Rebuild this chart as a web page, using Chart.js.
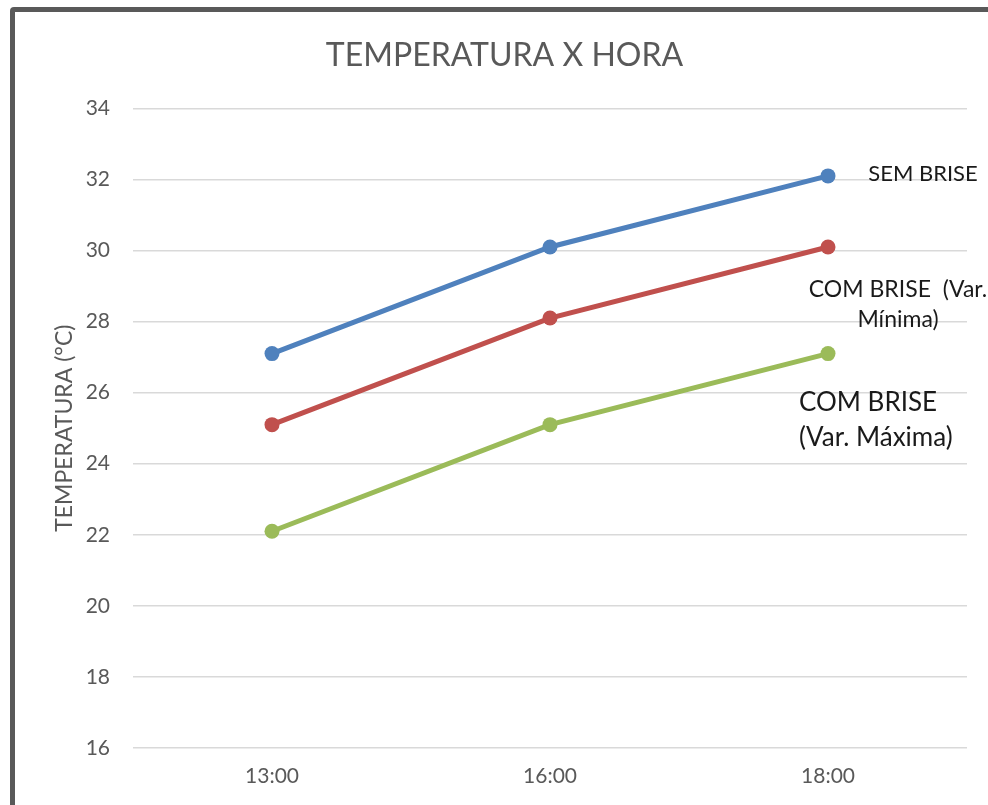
<!DOCTYPE html>
<html>
<head>
<meta charset="utf-8">
<script src="https://cdn.jsdelivr.net/npm/chart.js@4"></script>
<style>
  html, body { margin: 0; padding: 0; background: #fff; }
  #wrap { position: relative; width: 988px; height: 805px; overflow: hidden; }
  #frame { position: absolute; left: 10px; top: 7px; width: 1000px; height: 820px;
           border-left: 5px solid #595959; border-top: 5px solid #595959; border-radius: 4px; }
  canvas { position: absolute; left: 0; top: 0; }
</style>
</head>
<body>
<div id="wrap">
  <div id="frame"></div>
  <canvas id="tempChart" width="988" height="805"></canvas>
</div>
<script>
// Dados
const horas = ['13:00', '16:00', '18:00'];
const semBrise = [27.1, 30.1, 32.1];
const comBriseMin = [25.1, 28.1, 30.1];
const comBriseMax = [22.1, 25.1, 27.1];
const yTicks = [16, 18, 20, 22, 24, 26, 28, 30, 32, 34];

const labelSem = ['SEM BRISE'];
const labelMin = ['COM BRISE  (Var.', 'Mínima)'];
const labelMax = ['COM BRISE', '(Var. Máxima)'];

const cinza = '#595959';
const fonte = 'Lato, "Open Sans", sans-serif';

// rótulos das séries junto ao último ponto
const rotulos = {
  id: 'rotulos',
  afterDatasetsDraw(chart) {
    const ctx = chart.ctx;
    ctx.save();
    ctx.fillStyle = '#1a1a1a';
    ctx.textBaseline = 'middle';
    chart.data.datasets.forEach((ds, i) => {
      const pts = chart.getDatasetMeta(i).data;
      const p = pts[pts.length - 1];
      const o = ds.rotulo;
      ctx.font = o.size + 'px ' + fonte;
      ctx.textAlign = o.align;
      o.linhas.forEach((t, k) => {
        ctx.fillText(t, p.x + o.dx, p.y + o.dy + k * o.lh);
      });
    });
    ctx.restore();
  }
};

const ctx = document.getElementById('tempChart').getContext('2d');
new Chart(ctx, {
  type: 'line',
  data: {
    labels: horas,
    datasets: [
      { label: 'SEM BRISE', data: semBrise, borderColor: '#4f81bd', backgroundColor: '#4f81bd',
        rotulo: { linhas: labelSem, size: 22, dx: 95, dy: -2, lh: 0, align: 'center' } },
      { label: 'COM BRISE (Var. Mínima)', data: comBriseMin, borderColor: '#c0504d', backgroundColor: '#c0504d',
        rotulo: { linhas: labelMin, size: 23, dx: 70, dy: 43, lh: 30, align: 'center' } },
      { label: 'COM BRISE (Var. Máxima)', data: comBriseMax, borderColor: '#9bbb59', backgroundColor: '#9bbb59',
        rotulo: { linhas: labelMax, size: 26, dx: -29, dy: 49, lh: 35, align: 'left' } }
    ]
  },
  options: {
    responsive: false,
    animation: false,
    layout: { padding: { left: 42, right: 21, top: 0, bottom: 0 } },
    elements: {
      line: { borderWidth: 5, tension: 0 },
      point: { radius: 7.5, hoverRadius: 7.5, borderWidth: 0 }
    },
    plugins: {
      legend: { display: false },
      tooltip: { enabled: false },
      title: {
        display: true, text: 'TEMPERATURA X HORA', color: cinza,
        font: { family: fonte, size: 32, weight: 'normal' },
        padding: { top: 36, bottom: 34 }
      }
    },
    scales: {
      x: {
        offset: true,
        grid: { display: false, drawTicks: false },
        border: { display: false },
        ticks: { color: cinza, font: { family: fonte, size: 21 }, padding: 16 },
        afterFit(s) { s.height = 57; }
      },
      y: {
        min: 16, max: 34,
        afterBuildTicks(s) { s.ticks = yTicks.map(v => ({ value: v })); },
        grid: { color: '#d9d9d9', lineWidth: 1.5, drawTicks: false },
        border: { display: false },
        ticks: { color: cinza, font: { family: fonte, size: 21 }, padding: 23 },
        title: {
          display: true, text: 'TEMPERATURA (°C)', color: cinza,
          font: { family: fonte, size: 23 }, padding: { top: 9, bottom: 0 }
        },
        afterFit(s) { s.width = 91; }
      }
    }
  },
  plugins: [rotulos]
});
</script>
</body>
</html>
